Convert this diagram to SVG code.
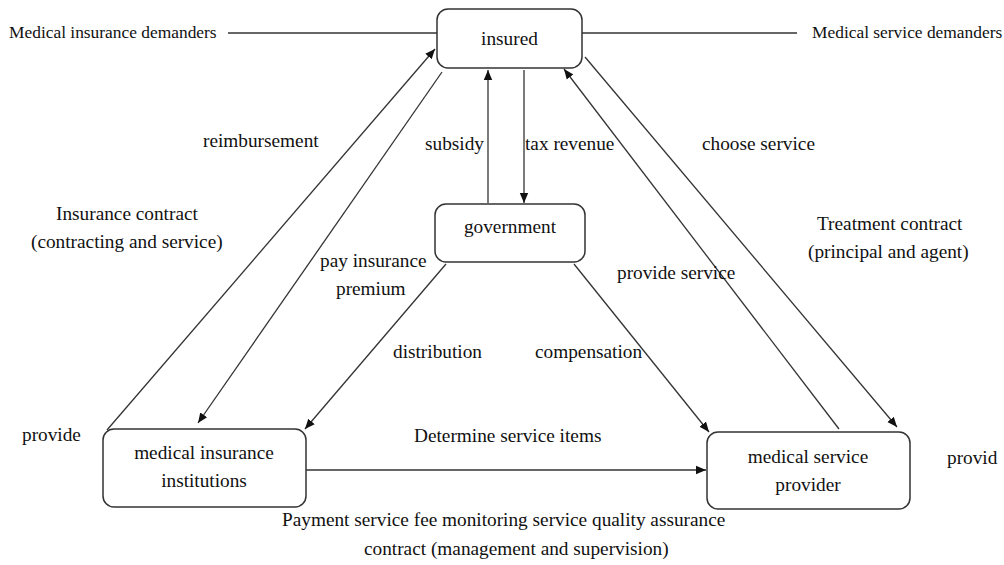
<svg xmlns="http://www.w3.org/2000/svg" width="1004" height="565" viewBox="0 0 1004 565">
<style>
text{font-family:"Liberation Serif","Times New Roman",serif;font-size:19.3px;fill:#111}
.side{font-size:17.4px}
.node rect{fill:#fff;stroke:#333;stroke-width:1.5}
.node text{text-anchor:middle}
#connectors line{stroke:#333;stroke-width:1.3;fill:none}
.arr{marker-end:url(#ah)}
</style>
<defs>
<marker id="ah" viewBox="0 0 10 10" refX="10" refY="5" markerWidth="10" markerHeight="10" markerUnits="userSpaceOnUse" orient="auto">
<path d="M0,0.8 L10,5 L0,9.2 z" fill="#111"/>
</marker>
</defs>
<rect width="1004" height="565" fill="#fff"/>
<g id="connectors">
<line x1="228" y1="33" x2="437" y2="33"/>
<line x1="582" y1="33" x2="797" y2="33"/>
<line class="arr" x1="107" y1="430" x2="435" y2="49"/>
<line class="arr" x1="442" y1="72" x2="198" y2="423"/>
<line class="arr" x1="488" y1="203" x2="488" y2="70"/>
<line class="arr" x1="524" y1="70" x2="524" y2="203"/>
<line class="arr" x1="446" y1="264" x2="305" y2="429"/>
<line class="arr" x1="574" y1="264" x2="709" y2="432"/>
<line class="arr" x1="306" y1="470" x2="706" y2="470"/>
<line class="arr" x1="839" y1="429" x2="564" y2="69"/>
<line class="arr" x1="585" y1="57" x2="897" y2="427"/>
</g>
<g id="insured" class="node">
<rect x="437" y="9" width="145" height="59" rx="11"/>
<text x="509.5" y="45">insured</text>
</g>
<g id="government" class="node">
<rect x="435" y="204" width="150" height="58" rx="11"/>
<text x="510" y="233">government</text>
</g>
<g id="institutions" class="node">
<rect x="103" y="429" width="203" height="78" rx="11"/>
<text x="204" y="459">medical insurance</text>
<text x="204" y="487">institutions</text>
</g>
<g id="provider" class="node">
<rect x="707" y="432" width="203" height="77" rx="11"/>
<text x="808" y="463">medical service</text>
<text x="808" y="491">provider</text>
</g>
<g id="labels">
<text class="side" x="9" y="38">Medical insurance demanders</text>
<text class="side" x="812" y="38">Medical service demanders</text>
<text x="203" y="147">reimbursement</text>
<text x="56" y="220">Insurance contract</text>
<text x="31" y="248">(contracting and service)</text>
<text x="425" y="150">subsidy</text>
<text x="525" y="150">tax revenue</text>
<text x="702" y="150">choose service</text>
<text x="817" y="230">Treatment contract</text>
<text x="808" y="258">(principal and agent)</text>
<text x="320" y="267">pay insurance</text>
<text x="336" y="295">premium</text>
<text x="617" y="279">provide service</text>
<text x="393" y="358">distribution</text>
<text x="535" y="358">compensation</text>
<text x="22" y="441">provide</text>
<text x="414" y="442">Determine service items</text>
<text x="947" y="464">provid</text>
<text x="282" y="526">Payment service fee monitoring service quality assurance</text>
<text x="364" y="555">contract (management and supervision)</text>
</g>
</svg>
